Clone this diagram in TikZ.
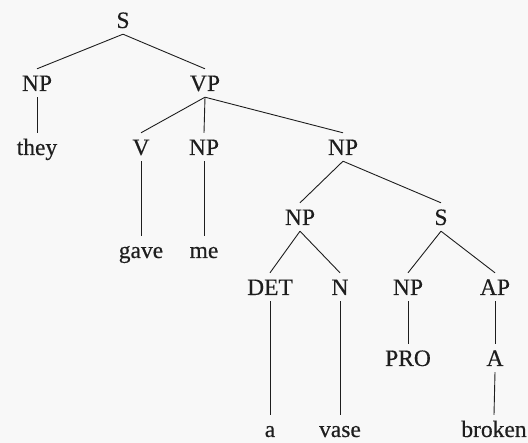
\documentclass[tikz,border=0pt]{standalone}
\usepackage{fontspec}
\setmainfont{Liberation Serif}[FakeBold=0.4]
\definecolor{paper}{RGB}{248,248,248}
\definecolor{ink}{RGB}{30,30,30}
\begin{document}
\begin{tikzpicture}[x=1pt,y=-1pt,
  cat/.style={anchor=base,inner xsep=2pt,inner ysep=6pt,
    text height=16pt,text depth=0pt,text=ink,
    font=\fontsize{23.5}{28}\selectfont},
  word/.style={cat,inner ysep=2pt,text height=20pt},
  branch/.style={draw=ink,line width=0.9pt}]
  % page
  \fill[paper] (0,0) rectangle (528,443);
  \useasboundingbox (0,0) rectangle (528,443);

  % categories and words (placed on their baselines)
  \node[cat] (s)     at (123,28)  {S};
  \node[cat] (np1)   at (37,91)   {NP};
  \node[cat] (vp)    at (205,91)  {VP};
  \node[cat] (they)  at (37,155)  {they};
  \node[cat] (v)     at (141,155) {V};
  \node[cat] (np2)   at (204,155) {NP};
  \node[cat] (np3)   at (343,155) {NP};
  \node[cat] (gave)  at (141,258) {gave};
  \node[cat] (me)    at (204,258) {me};
  \node[cat] (np4)   at (300,225) {NP};
  \node[cat] (s2)    at (441,225) {S};
  \node[cat] (det)   at (270,295) {DET};
  \node[cat] (n)     at (340,295) {N};
  \node[cat] (np5)   at (408,295) {NP};
  \node[cat] (ap)    at (495,295) {AP};
  \node[cat] (pro)   at (408,366) {PRO};
  \node[cat] (a)     at (495,366) {A};
  \node[word] (wa)    at (270,437) {a};
  \node[word] (vase)  at (340,437) {vase};
  \node[word] (broken) at (494,437) {broken};

  % branches
  \draw[branch] (s.south) -- (np1.north);
  \draw[branch] (s.south) -- (vp.north);
  \draw[branch] (np1.south) -- (they.north);
  \draw[branch] (vp.south) -- (v.north);
  \draw[branch] (vp.south) -- (np2.north);
  \draw[branch] (vp.south) -- (np3.north);
  \draw[branch] (v.south) -- (gave.north);
  \draw[branch] (np2.south) -- (me.north);
  \draw[branch] (np3.south) -- (np4.north);
  \draw[branch] (np3.south) -- (s2.north);
  \draw[branch] (np4.south) -- (det.north);
  \draw[branch] (np4.south) -- (n.north);
  \draw[branch] (s2.south) -- (np5.north);
  \draw[branch] (s2.south) -- (ap.north);
  \draw[branch] (np5.south) -- (pro.north);
  \draw[branch] (ap.south) -- (a.north);
  \draw[branch] (det.south) -- (wa.north);
  \draw[branch] (n.south) -- (vase.north);
  \draw[branch] (a.south) -- (broken.north);
\end{tikzpicture}
\end{document}
